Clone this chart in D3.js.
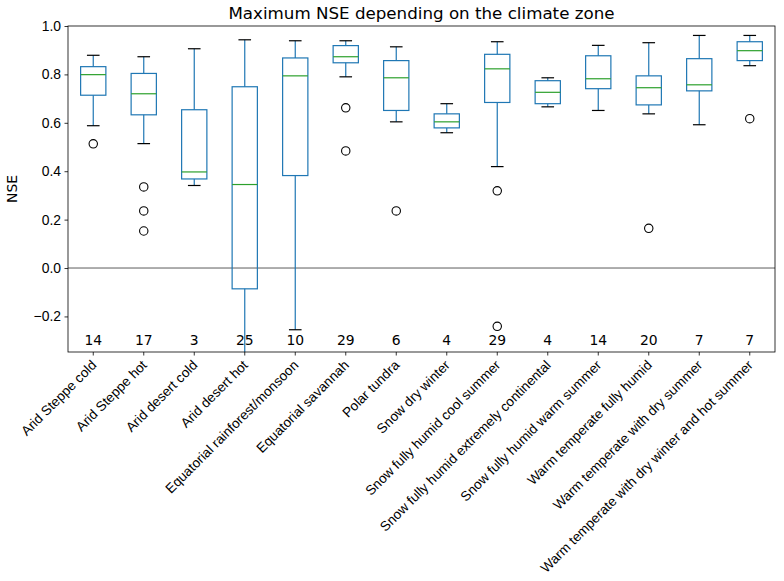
<!DOCTYPE html>
<html>
<head>
<meta charset="utf-8">
<style>
    body { margin: 0; background: #fff; }
    svg { font-family: 'DejaVu Sans', sans-serif; }
    .tick line { stroke: #000; stroke-width: 0.8; }
    .tick text { fill: #000; }
    .y .tick text { font-size: 13.9px; }
    .x .tick text { font-size: 13.6px; }
</style>
</head>
<body>
<svg width="784" height="581"></svg>
<script src="https://d3js.org/d3.v7.min.js"></script>
<script>
    let categories = [
        "Arid Steppe cold",
        "Arid Steppe hot",
        "Arid desert cold",
        "Arid desert hot",
        "Equatorial rainforest/monsoon",
        "Equatorial savannah",
        "Polar tundra",
        "Snow dry winter",
        "Snow fully humid cool summer",
        "Snow fully humid extremely continental",
        "Snow fully humid warm summer",
        "Warm temperate fully humid",
        "Warm temperate with dry summer",
        "Warm temperate with dry winter and hot summer"
    ]

    let counts = [14, 17, 3, 25, 10, 29, 6, 4, 29, 4, 14, 20, 7, 7]

    let whiskerHigh = [0.879, 0.873, 0.906, 0.943, 0.939, 0.939, 0.914, 0.679, 0.935, 0.786, 0.920, 0.931, 0.961, 0.961]
    let q3 = [0.832, 0.804, 0.654, 0.749, 0.868, 0.919, 0.857, 0.637, 0.883, 0.774, 0.877, 0.794, 0.865, 0.935]
    let median = [0.799, 0.720, 0.397, 0.345, 0.794, 0.873, 0.786, 0.604, 0.823, 0.726, 0.782, 0.745, 0.757, 0.898]
    let q1 = [0.714, 0.633, 0.368, -0.086, 0.382, 0.848, 0.651, 0.579, 0.684, 0.679, 0.741, 0.674, 0.732, 0.857]
    let whiskerLow = [0.588, 0.514, 0.341, -0.45, -0.255, 0.790, 0.604, 0.559, 0.419, 0.666, 0.651, 0.637, 0.592, 0.836]

    let outliers = [
        [0.513],
        [0.335, 0.236, 0.153],
        [],
        [],
        [],
        [0.662, 0.484],
        [0.236],
        [],
        [0.319, -0.241],
        [],
        [],
        [0.164],
        [],
        [0.617]
    ]

    let yTicks = [-0.2, 0.0, 0.2, 0.4, 0.6, 0.8, 1.0]

    let margin = { top: 26, right: 9, bottom: 229, left: 68 }
    let width = 784
    let height = 581

    let svg = d3.select("svg")

    let x = d3.scaleBand()
        .domain(categories)
        .range([margin.left, width - margin.right])
        .padding(0)

    let y = d3.scaleLinear()
        .domain([-0.347, 1.0])
        .range([height - margin.bottom, margin.top])

    let bw = x.bandwidth()
    let boxW = bw * 0.5
    let capW = bw * 0.25
    let blue = "#1f77b4"

    svg.append("clipPath")
        .attr("id", "plot-clip")
        .append("rect")
        .attr("x", margin.left)
        .attr("y", margin.top)
        .attr("width", width - margin.right - margin.left)
        .attr("height", height - margin.bottom - margin.top)

    let rows = categories.map((c, i) => ({
        cat: c,
        n: counts[i],
        hi: whiskerHigh[i],
        q3: q3[i],
        med: median[i],
        q1: q1[i],
        lo: whiskerLow[i],
        out: outliers[i]
    }))

    let plot = svg.append("g").attr("clip-path", "url(#plot-clip)")

    // zero line
    plot.append("line")
        .attr("x1", margin.left)
        .attr("x2", width - margin.right)
        .attr("y1", y(0))
        .attr("y2", y(0))
        .attr("stroke", "#333")
        .attr("stroke-width", 0.8)

    let boxes = plot.selectAll(".box")
        .data(rows)
        .join("g")
        .attr("class", "box")
        .attr("transform", d => `translate(${x(d.cat) + bw / 2},0)`)

    // whiskers
    boxes.append("line")
        .attr("y1", d => y(d.q3))
        .attr("y2", d => y(d.hi))
        .attr("stroke", blue)
        .attr("stroke-width", 1.2)
    boxes.append("line")
        .attr("y1", d => y(d.q1))
        .attr("y2", d => y(d.lo))
        .attr("stroke", blue)
        .attr("stroke-width", 1.2)

    // caps
    boxes.append("line")
        .attr("x1", -capW / 2)
        .attr("x2", capW / 2)
        .attr("y1", d => y(d.hi))
        .attr("y2", d => y(d.hi))
        .attr("stroke", "#000")
        .attr("stroke-width", 1.2)
    boxes.append("line")
        .attr("x1", -capW / 2)
        .attr("x2", capW / 2)
        .attr("y1", d => y(d.lo))
        .attr("y2", d => y(d.lo))
        .attr("stroke", "#000")
        .attr("stroke-width", 1.2)

    // box
    boxes.append("rect")
        .attr("x", -boxW / 2)
        .attr("width", boxW)
        .attr("y", d => y(d.q3))
        .attr("height", d => y(d.q1) - y(d.q3))
        .attr("fill", "none")
        .attr("stroke", blue)
        .attr("stroke-width", 1.2)

    // median
    boxes.append("line")
        .attr("x1", -boxW / 2)
        .attr("x2", boxW / 2)
        .attr("y1", d => y(d.med))
        .attr("y2", d => y(d.med))
        .attr("stroke", "#2ca02c")
        .attr("stroke-width", 1.2)

    // fliers
    boxes.selectAll("circle")
        .data(d => d.out)
        .join("circle")
        .attr("cx", 0)
        .attr("cy", v => y(v))
        .attr("r", 4.2)
        .attr("fill", "none")
        .attr("stroke", "#000")
        .attr("stroke-width", 1.1)

    // counts
    svg.append("g")
        .selectAll("text")
        .data(rows)
        .join("text")
        .attr("x", d => x(d.cat) + bw / 2)
        .attr("y", 345)
        .attr("text-anchor", "middle")
        .attr("font-size", "13.9px")
        .text(d => d.n)

    // axes
    let xAxis = svg.append("g")
        .attr("class", "x")
        .attr("transform", `translate(0,${height - margin.bottom})`)
        .call(d3.axisBottom(x).tickSize(3.5).tickPadding(3.5))
    xAxis.select(".domain").remove()
    xAxis.selectAll(".tick text")
        .attr("text-anchor", "end")
        .attr("dy", null)
        .attr("y", null)
        .attr("transform", "translate(4,14) rotate(-45)")

    let yAxis = svg.append("g")
        .attr("class", "y")
        .attr("transform", `translate(${margin.left},0)`)
        .call(d3.axisLeft(y).tickValues(yTicks).tickSize(3.5).tickPadding(3.5)
            .tickFormat(d => d3.format(".1f")(d).replace("-", "\u2212")))
    yAxis.select(".domain").remove()

    // frame
    svg.append("rect")
        .attr("x", margin.left)
        .attr("y", margin.top)
        .attr("width", width - margin.right - margin.left)
        .attr("height", height - margin.bottom - margin.top)
        .attr("fill", "none")
        .attr("stroke", "#000")
        .attr("stroke-width", 0.8)

    svg.append("text")
        .attr("x", (margin.left + width - margin.right) / 2)
        .attr("y", 19)
        .attr("text-anchor", "middle")
        .attr("font-size", "16.7px")
        .text("Maximum NSE depending on the climate zone")

    svg.append("text")
        .attr("transform", `translate(17,${(margin.top + height - margin.bottom) / 2}) rotate(-90)`)
        .attr("text-anchor", "middle")
        .attr("font-size", "13.9px")
        .text("NSE")
</script>
</body>
</html>
